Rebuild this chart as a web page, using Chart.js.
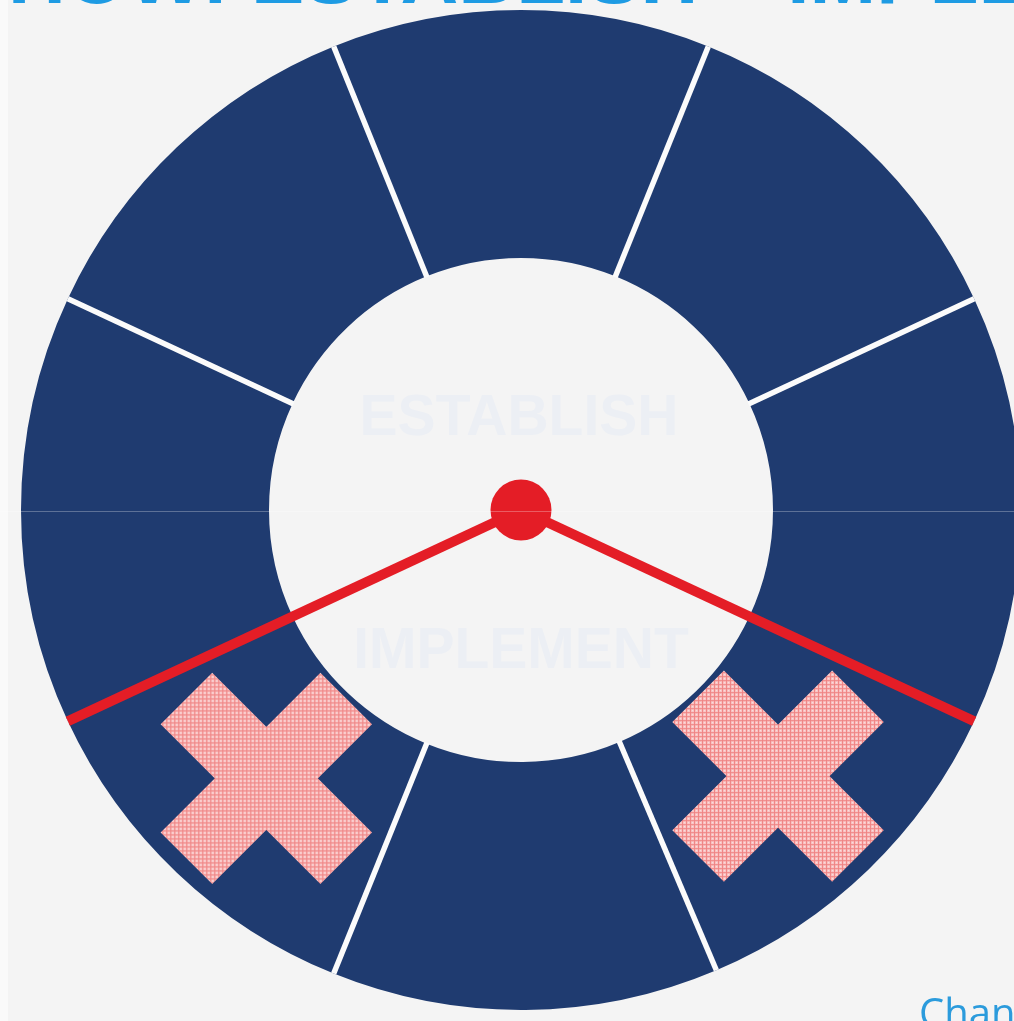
<!DOCTYPE html>
<html>
<head>
<meta charset="utf-8">
<script src="https://cdn.jsdelivr.net/npm/chart.js@4/dist/chart.umd.min.js"></script>
<style>
html,body{margin:0;padding:0;overflow:hidden;width:1014px;height:1021px;background:#f4f4f4;}
#wrap{position:absolute;left:0;top:0;width:1042px;height:1021px;}
</style>
</head>
<body>
<div id="wrap"><canvas id="c" width="1042" height="1021"></canvas></div>
<script>
// ---- data ----
const segmentLabels = ['Top', 'Upper right', 'Right', 'Lower right', 'Bottom', 'Lower left', 'Left', 'Upper left'];
const segmentSpans = [44, 43, 50, 42, 45, 43, 50, 43];   // degrees of each ring segment
const startAngle = -22;                                  // where the first segment begins (deg from top)
const handAfterSegment = [2, 5];                         // red hands sit at the end of these segments
const crossedSegments = [3, 5];                          // segments marked with a pink cross
const centerLabels = ['ESTABLISH', 'IMPLEMENT'];
const titleText = 'HOW: ESTABLISH \u2013 IMPLEMENT FRAMEWORK';
const footerText = 'Change';

// ---- styles ----
const ringColor = '#1f3b70';
const handColor = '#e41d26';
const bgColor = '#f4f4f4';
const gapColor = '#fbfbfb';

function makeCrossPattern(ctx) {
  const pc = document.createElement('canvas');
  pc.width = 4; pc.height = 4;
  const p = pc.getContext('2d');
  p.fillStyle = '#f9c3c3'; p.fillRect(0, 0, 4, 4);
  p.fillStyle = '#f08484'; p.fillRect(0, 0, 4, 1); p.fillRect(0, 0, 1, 4);
  p.fillStyle = '#fde4e4'; p.fillRect(2, 2, 1, 1);
  return ctx.createPattern(pc, 'repeat');
}

const overlay = {
  id: 'overlay',
  beforeDraw(chart) {
    const ctx = chart.ctx;
    ctx.save();
    ctx.fillStyle = bgColor;
    ctx.fillRect(0, 0, chart.width, chart.height);
    ctx.fillStyle = '#fafafa';
    ctx.fillRect(0, 0, 8, chart.height);
    ctx.restore();
  },
  afterDatasetsDraw(chart) {
    const ctx = chart.ctx;
    const arcs = chart.getDatasetMeta(0).data;
    const a0 = arcs[0];
    const cx = a0.x, cy = a0.y;
    const R = a0.outerRadius, r = a0.innerRadius;
    ctx.save();

    // white separators between segments
    ctx.strokeStyle = gapColor;
    ctx.lineWidth = 5.5;
    ctx.lineCap = 'butt';
    arcs.forEach(a => {
      const ang = a.startAngle;
      ctx.beginPath();
      ctx.moveTo(cx + Math.cos(ang) * (r - 1), cy + Math.sin(ang) * (r - 1));
      ctx.lineTo(cx + Math.cos(ang) * R, cy + Math.sin(ang) * R);
      ctx.stroke();
    });

    // faint labels inside the hole
    ctx.fillStyle = '#eceff4';
    ctx.font = 'bold 57px "Liberation Sans", Arial, sans-serif';
    ctx.textAlign = 'center';
    ctx.textBaseline = 'alphabetic';
    ctx.fillText(centerLabels[0], cx - 2, cy - 75);
    ctx.fillText(centerLabels[1], cx, cy + 158);

    // pink crosses at the middle of the marked segments
    const pat = makeCrossPattern(ctx);
    crossedSegments.forEach(i => {
      const a = arcs[i];
      const mid = (a.startAngle + a.endAngle) / 2;
      const rm = (a.innerRadius + a.outerRadius) / 2 - 6;
      ctx.save();
      ctx.translate(cx + Math.cos(mid) * rm, cy + Math.sin(mid) * rm);
      ctx.strokeStyle = pat;
      ctx.lineWidth = 73;
      ctx.lineCap = 'butt';
      const d = 113 * Math.SQRT1_2;
      ctx.beginPath();
      ctx.moveTo(-d, -d); ctx.lineTo(d, d);
      ctx.moveTo(d, -d); ctx.lineTo(-d, d);
      ctx.stroke();
      ctx.restore();
    });

    // red hands
    ctx.strokeStyle = handColor;
    ctx.lineWidth = 10;
    handAfterSegment.forEach(i => {
      const ang = arcs[i].endAngle;
      ctx.beginPath();
      ctx.moveTo(cx, cy);
      ctx.lineTo(cx + Math.cos(ang) * R, cy + Math.sin(ang) * R);
      ctx.stroke();
    });
    ctx.fillStyle = handColor;
    ctx.beginPath();
    ctx.arc(cx, cy, 30.5, 0, Math.PI * 2);
    ctx.fill();

    // faint horizontal scan line through the centre
    ctx.fillStyle = 'rgba(255,255,255,0.28)';
    ctx.fillRect(0, Math.round(cy) + 1, chart.width, 1);

    // cut-off title and footer
    ctx.textAlign = 'left';
    ctx.textBaseline = 'alphabetic';
    ctx.fillStyle = '#1e9be3';
    ctx.font = 'bold 80px "Liberation Sans", Arial, sans-serif';
    ctx.fillText(titleText, 8, 3);
    ctx.fillStyle = '#2b9bdc';
    ctx.font = '40px "Open Sans", "Liberation Sans", sans-serif';
    ctx.fillText(footerText, 919, 1027);
    ctx.restore();
  }
};

new Chart(document.getElementById('c'), {
  type: 'doughnut',
  data: {
    labels: segmentLabels,
    datasets: [{
      data: segmentSpans,
      backgroundColor: ringColor,
      borderWidth: 0,
      spacing: 0
    }]
  },
  options: {
    responsive: false,
    animation: false,
    devicePixelRatio: 1,
    rotation: startAngle,
    circumference: 360,
    cutout: '50.4%',
    events: [],
    layout: { padding: { left: 21, right: 21, top: 10, bottom: 11 } },
    plugins: { legend: { display: false }, tooltip: { enabled: false } }
  },
  plugins: [overlay]
});
</script>
</body>
</html>
